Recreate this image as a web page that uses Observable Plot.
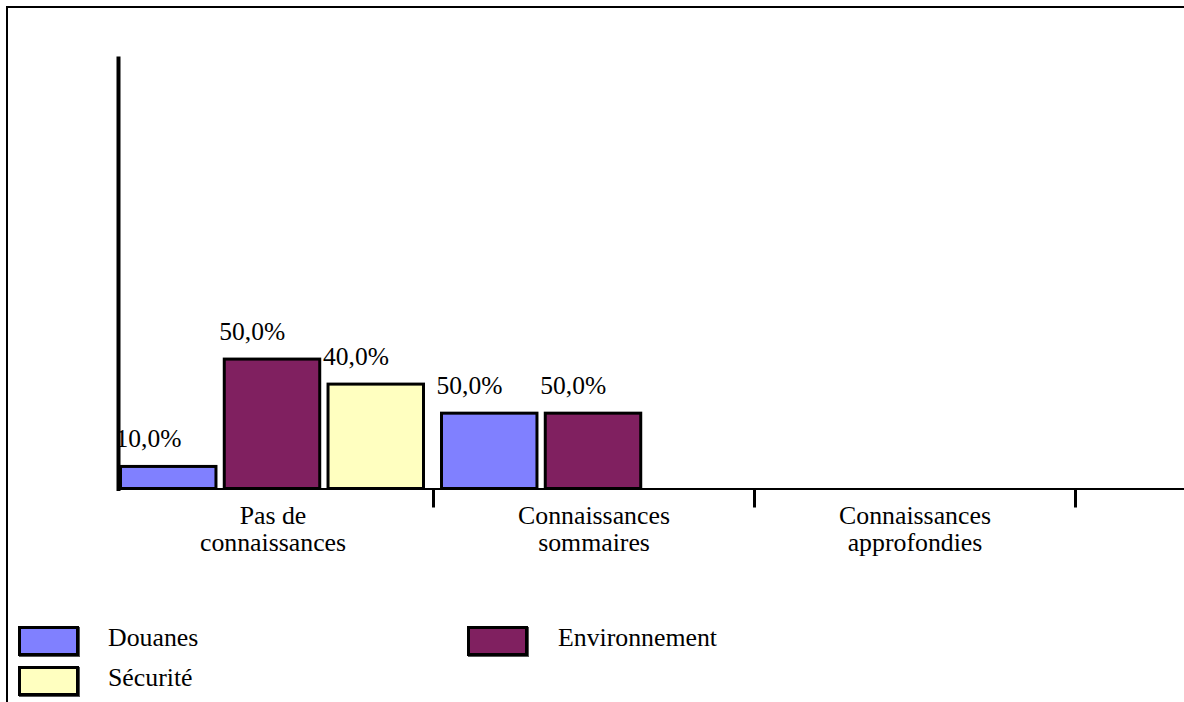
<!DOCTYPE html>
<html>
<head>
<meta charset="utf-8">
<script src="https://cdn.jsdelivr.net/npm/d3@7"></script>
<script src="https://cdn.jsdelivr.net/npm/@observablehq/plot@0.6"></script>
<style>
  html, body { margin: 0; padding: 0; background: #fff; overflow: hidden; }
  #wrap { position: relative; width: 1184px; height: 702px; font-family: "Liberation Serif", "Times New Roman", serif; }
  #border { position: absolute; left: 6px; top: 6px; width: 1400px; height: 900px; border: 2.5px solid #000; pointer-events: none; }
  #chart { position: absolute; left: 0; top: 0; }
  .sw { position: absolute; box-sizing: border-box; width: 61px; height: 30px; border: 3px solid #000; box-shadow: 1px 1px 0 #555; }
  .lt { position: absolute; font-size: 25.8px; line-height: 1; white-space: nowrap; }
</style>
</head>
<body>
<div id="wrap">
  <div id="chart"></div>
  <div id="legend"></div>
  <div id="border"></div>
</div>
<script>
// ---- data ----
const categories = ["Pas de connaissances", "Connaissances sommaires", "Connaissances approfondies"];
const categoryLabels = ["Pas de\nconnaissances", "Connaissances\nsommaires", "Connaissances\napprofondies"];
const series = ["Douanes", "Environnement", "Sécurité"];
const colors = ["#8080FF", "#802060", "#FFFFC0"];
// bar heights (arbitrary units)
const douanesValues = [0.82, 2.80, 0];
const environnementValues = [4.81, 2.80, 0];
const securiteValues = [3.88, 0, 0];
// value labels printed above the bars
const douanesLabels = ["10,0%", "50,0%", null];
const environnementLabels = ["50,0%", "50,0%", null];
const securiteLabels = ["40,0%", null, null];

const valuesBySeries = [douanesValues, environnementValues, securiteValues];
const labelsBySeries = [douanesLabels, environnementLabels, securiteLabels];
const rows = [];
series.forEach((s, k) => categories.forEach((c, i) => {
  if (valuesBySeries[k][i] > 0) rows.push({category: c, series: s, value: valuesBySeries[k][i], label: labelsBySeries[k][i]});
}));

// ---- layout ----
const W = 1184, H = 580;
const bandRange = [112, 1075];
const bw = (bandRange[1] - bandRange[0]) / categories.length;
const inner = d3.scaleBand().domain(series).range([8.5, bw - 9.5]).paddingInner(0.08);
const font = "'Liberation Serif', 'Times New Roman', serif";

const marks = [];
series.forEach((s, k) => {
  const data = rows.filter(d => d.series === s);
  const left = inner(s);
  const right = bw - left - inner.bandwidth();
  marks.push(Plot.barY(data, {
    x: "category", y: "value", fill: colors[k], stroke: "#000", strokeWidth: 3,
    insetLeft: left, insetRight: right
  }));
  marks.push(Plot.text(data, {
    x: "category", y: "value", text: "label", textAnchor: "start", lineAnchor: "bottom",
    dx: left - bw / 2 - 5.5, dy: -19.5, fontSize: 25.5, fill: "#000"
  }));
});

const chart = Plot.plot({
  width: W, height: H,
  marginTop: 58, marginLeft: 118, marginRight: 0, marginBottom: H - 488.5,
  style: {fontFamily: font, background: "transparent", overflow: "visible"},
  x: {domain: categories, range: bandRange, padding: 0, axis: null},
  y: {domain: [0, 16], axis: null},
  marks: [
    ...marks,
    Plot.ruleY([0], {stroke: "#000", strokeWidth: 2}),
    Plot.frame({anchor: "left", stroke: "#000", strokeWidth: 4}),
    Plot.axisX({tickSize: 19, tickFormat: null, label: null, strokeWidth: 3, dx: bw / 2, stroke: "#000"}),
    Plot.axisX({tickSize: 0, tickPadding: 15.5, label: null, tickFormat: (d) => categoryLabels[categories.indexOf(d)],
      fontSize: 25.8, lineHeight: 1.06, fill: "#000"})
  ]
});
document.getElementById("chart").appendChild(chart);

// ---- legend ----
const legendPos = [
  {sx: 18, sy: 626, tx: 108},
  {sx: 467, sy: 626, tx: 558},
  {sx: 18, sy: 666, tx: 108}
];
const lg = document.getElementById("legend");
series.forEach((s, k) => {
  const p = legendPos[k];
  const sw = document.createElement("div");
  sw.className = "sw";
  sw.style.left = p.sx + "px"; sw.style.top = p.sy + "px"; sw.style.background = colors[k];
  lg.appendChild(sw);
  const t = document.createElement("div");
  t.className = "lt";
  t.textContent = s;
  t.style.left = p.tx + "px"; t.style.top = (p.sy - 1) + "px";
  lg.appendChild(t);
});
</script>
</body>
</html>
